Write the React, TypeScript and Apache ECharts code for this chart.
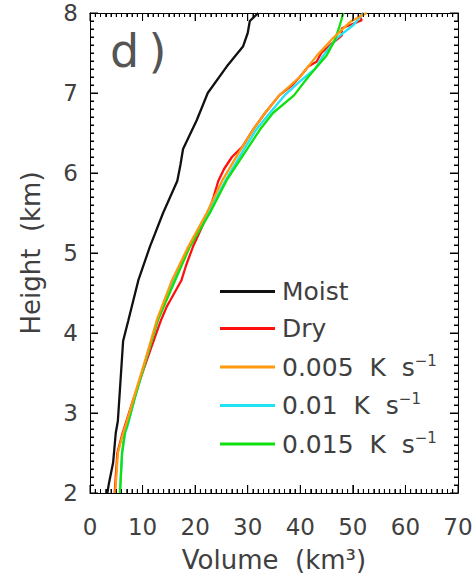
import React, { useEffect, useRef } from "react";
import * as echarts from "echarts";

// Volume (km^3), Height (km)
const moist: number[][] = [
  [3.3, 2], [3.6, 2.12], [4.4, 2.38], [4.9, 2.75], [5.3, 2.9], [6.3, 3.9], [7.3, 4.16],
  [9.2, 4.66], [11.4, 5.08], [13.9, 5.5], [16.6, 5.9], [17.2, 6.1], [17.7, 6.3], [20.3, 6.66],
  [22.4, 7], [26, 7.33], [29.1, 7.58], [30, 7.75], [30.4, 7.9], [32, 8],
];
const dry: number[][] = [
  [4.7, 2], [5.2, 2.5], [6.2, 2.75], [8.2, 3.16], [10.8, 3.66], [13.5, 4.16], [14.6, 4.33],
  [15.2, 4.4], [17.4, 4.66], [18.3, 4.85], [19.6, 5.08], [22.5, 5.5], [23.5, 5.7], [24.4, 5.9],
  [25.5, 6.05], [27, 6.2], [29, 6.33], [31, 6.54], [33.3, 6.75], [36, 6.97], [38.5, 7.1],
  [39.9, 7.2], [41.5, 7.33], [43.1, 7.39], [44, 7.5], [45.7, 7.6], [47.9, 7.72], [47.9, 7.81],
  [49.5, 7.85], [51.7, 7.91], [51.3, 7.95], [52, 8],
];
const k005: number[][] = [
  [4.8, 2], [5.3, 2.5], [6.3, 2.75], [6.8, 2.85], [8.2, 3.16], [10.5, 3.66], [12.7, 4.16],
  [15.6, 4.66], [18.7, 5.08], [22.2, 5.5], [25.2, 5.91], [29, 6.33], [31, 6.54], [33.3, 6.75],
  [36, 6.97], [39.9, 7.2], [43.2, 7.47], [46.3, 7.69], [49.5, 7.89], [52.6, 8],
];
const k01: number[][] = [
  [5.7, 2], [6.1, 2.5], [6.7, 2.75], [7.2, 2.85], [8.4, 3.16], [10.6, 3.66], [12.9, 4.16],
  [15.9, 4.66], [18.9, 5.08], [22.5, 5.5], [25.8, 5.91], [29.6, 6.33], [31.6, 6.54], [34.2, 6.75],
  [37, 6.97], [40.2, 7.16], [42.8, 7.3], [44.4, 7.47], [47, 7.69], [50.1, 7.85], [51, 7.92], [52, 8],
];
const k015: number[][] = [
  [5.7, 2], [6.1, 2.5], [6.6, 2.75], [7.1, 2.85], [8.4, 3.16], [10.6, 3.66], [12.9, 4.16],
  [16.2, 4.66], [19, 5.08], [22.8, 5.5], [26, 5.91], [30.2, 6.33], [32.3, 6.54], [34.8, 6.75],
  [38.8, 6.97], [41.5, 7.2], [45, 7.47], [46.5, 7.65], [47.3, 7.8], [48.2, 8],
];

const seriesNames = ["Moist", "Dry", "0.005 K s-1", "0.01 K s-1", "0.015 K s-1"];
const seriesColors = ["#111111", "#ff1010", "#ff9a10", "#20e4f4", "#10e010"];
const legendLabels: Record<string, string> = {
  "Moist": "{a|Moist}",
  "Dry": "{a|Dry}",
  "0.005 K s-1": "{a|0.005\u00a0\u00a0K\u00a0\u00a0s}{s|\u22121}",
  "0.01 K s-1": "{a|0.01\u00a0\u00a0K\u00a0\u00a0s}{s|\u22121}",
  "0.015 K s-1": "{a|0.015\u00a0\u00a0K\u00a0\u00a0s}{s|\u22121}",
};

// axis ranges and tick steps
const X_MIN = 0, X_MAX = 70, X_MAJOR = 10, X_MINOR = 1;
const Y_MIN = 2, Y_MAX = 8, Y_MAJOR = 1, Y_MINOR = 0.1;

const FONT = "DejaVu Sans";
const TXT = "#404040";

export default function App() {
  const ref = useRef<HTMLDivElement>(null);
  useEffect(() => {
    document.body.style.margin = "0";
    const chart = echarts.init(ref.current!, null, { renderer: "svg" });
    const mkLine = () => ({ show: true, lineStyle: { color: "#000" } });
    const mkTick = () => ({ show: true, inside: true, length: 8 });
    const mkMinor = () => ({ show: true, splitNumber: 10, length: 4 });
    const mkRect = () => ({ left: 90, right: 18, top: 13, bottom: 81, outerBoundsMode: "none" });
    const data = [moist, dry, k005, k01, k015];
    const order = [0, 1, 3, 4, 2];

    // frame ticks drawn through the axis scales (inward, on all four sides)
    const tickSeries = {
      type: "custom",
      coordinateSystem: "cartesian2d",
      xAxisIndex: 0,
      yAxisIndex: 0,
      silent: true,
      z: 5,
      data: [[X_MIN, Y_MIN]],
      renderItem: (_p: any, api: any) => {
        const children: any[] = [];
        const st = { stroke: "#000", lineWidth: 1 };
        const nx = Math.round((X_MAX - X_MIN) / X_MINOR);
        for (let i = 0; i <= nx; i++) {
          const v = X_MIN + i * X_MINOR;
          const len = i % Math.round(X_MAJOR / X_MINOR) === 0 ? 8 : 4;
          const b = api.coord([v, Y_MIN]);
          const t = api.coord([v, Y_MAX]);
          children.push({ type: "line", shape: { x1: b[0], y1: b[1], x2: b[0], y2: b[1] - len }, style: st });
          children.push({ type: "line", shape: { x1: t[0], y1: t[1], x2: t[0], y2: t[1] + len }, style: st });
        }
        const ny = Math.round((Y_MAX - Y_MIN) / Y_MINOR);
        for (let i = 0; i <= ny; i++) {
          const v = Y_MIN + i * Y_MINOR;
          const len = i % Math.round(Y_MAJOR / Y_MINOR) === 0 ? 8 : 4;
          const l = api.coord([X_MIN, v]);
          const r = api.coord([X_MAX, v]);
          children.push({ type: "line", shape: { x1: l[0], y1: l[1], x2: l[0] + len, y2: l[1] }, style: st });
          children.push({ type: "line", shape: { x1: r[0], y1: r[1], x2: r[0] - len, y2: r[1] }, style: st });
        }
        return { type: "group", children };
      },
    };

    chart.setOption({
      animation: false,
      grid: [mkRect(), mkRect()],
      xAxis: [
        {
          type: "value", gridIndex: 0,
          min: X_MIN, max: X_MAX, interval: X_MAJOR, position: "bottom",
          axisLine: mkLine(), axisTick: mkTick(), minorTick: mkMinor(),
          splitLine: { show: false },
          axisLabel: { fontSize: 23, color: TXT, margin: 22, fontFamily: FONT },
          name: "Volume\u00a0\u00a0(km\u00b3)", nameLocation: "middle", nameGap: 54,
          nameMoveOverlap: false,
          nameTextStyle: { fontSize: 26, color: TXT, fontFamily: FONT },
        },
        {
          type: "value", gridIndex: 0,
          min: X_MIN, max: X_MAX, interval: X_MAJOR, position: "top",
          axisLine: mkLine(), axisTick: mkTick(), minorTick: mkMinor(),
          splitLine: { show: false },
          axisLabel: { show: false },
        },
        {
          // helper axis so the mirrored height axis stays on the right edge
          type: "value", gridIndex: 1, min: 1, max: 71, show: false,
        },
      ],
      yAxis: [
        {
          type: "value", gridIndex: 0,
          min: Y_MIN, max: Y_MAX, interval: Y_MAJOR, position: "left",
          axisLine: mkLine(), axisTick: mkTick(), minorTick: mkMinor(),
          splitLine: { show: false },
          axisLabel: { fontSize: 23, color: TXT, margin: 12, fontFamily: FONT },
          name: "Height\u00a0\u00a0(km)", nameLocation: "middle", nameGap: 46,
          nameMoveOverlap: false,
          nameTextStyle: { fontSize: 26, color: TXT, fontFamily: FONT },
        },
        {
          type: "value", gridIndex: 1,
          min: Y_MIN, max: Y_MAX, interval: Y_MAJOR, position: "right",
          axisLine: mkLine(), axisTick: mkTick(), minorTick: mkMinor(),
          splitLine: { show: false },
          axisLabel: { show: false },
        },
      ],
      legend: {
        orient: "vertical",
        left: 215,
        top: 274,
        itemWidth: 55,
        itemHeight: 3,
        itemGap: 12,
        icon: "rect",
        data: seriesNames,
        formatter: (n: string) => legendLabels[n],
        textStyle: {
          color: TXT,
          fontFamily: FONT,
          rich: {
            a: { fontSize: 25, lineHeight: 28, color: TXT, fontFamily: FONT, padding: [0, 0, 0, 2] },
            s: { fontSize: 15, lineHeight: 15, color: TXT, fontFamily: FONT, verticalAlign: "top" },
          },
        },
      },
      graphic: [
        {
          type: "text",
          left: 110,
          top: 28,
          style: { text: "d\u2009)", fontSize: 46, fill: "#555", fontFamily: FONT },
          z: 10,
        },
      ],
      series: [
        ...order.map((i) => ({
          name: seriesNames[i],
          type: "line",
          data: data[i],
          symbol: "none",
          showSymbol: false,
          xAxisIndex: 0,
          yAxisIndex: 0,
          lineStyle: { color: seriesColors[i], width: 2.3 },
          itemStyle: { color: seriesColors[i] },
        })),
        tickSeries,
      ],
    });
    return () => chart.dispose();
  }, []);
  return <div ref={ref} style={{ width: 476, height: 574 }} />;
}
